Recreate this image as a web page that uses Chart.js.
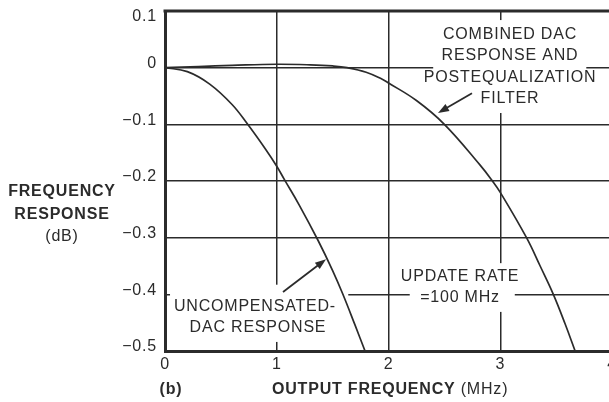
<!DOCTYPE html>
<html>
<head>
<meta charset="utf-8">
<script src="https://cdn.jsdelivr.net/npm/chart.js@4/dist/chart.umd.min.js"></script>
<style>
  html, body { margin: 0; padding: 0; background: #fff; overflow: hidden; }
  #wrap { position: relative; width: 615px; height: 402px; }
</style>
</head>
<body>
<div id="wrap"><canvas id="chart-dac"></canvas></div>
<script>
// Uncompensated DAC response (MHz, dB)
const freqUncomp = [0, 0.2, 0.4, 0.6, 0.74, 0.9, 1.0, 1.07, 1.2, 1.37, 1.5, 1.59, 1.7, 1.79];
const respUncomp = [0, -0.007, -0.029, -0.065, -0.1, -0.144, -0.174, -0.198, -0.242, -0.305, -0.358, -0.399, -0.454, -0.5];

// Combined DAC response + postequalization filter
const freqComb = [0, 0.3, 0.6, 1.0, 1.3, 1.5, 1.63, 1.8, 1.94, 2.0, 2.25, 2.5, 2.82, 2.93, 3.0, 3.235, 3.357, 3.475, 3.58, 3.67];
const respComb = [0, 0.002, 0.004, 0.006, 0.005, 0.003, 0, -0.008, -0.02, -0.027, -0.058, -0.1, -0.172, -0.2, -0.22, -0.3, -0.35, -0.4, -0.452, -0.5];

const xTicks = [0, 1, 2, 3, 4];
const yTicks = [0.1, 0, -0.1, -0.2, -0.3, -0.4, -0.5];

const INK = '#2b2b2b';
const FONT = '"Liberation Sans", Arial, sans-serif';

function txt(ctx, s, x, y, bold, align) {
  ctx.font = (bold ? 'bold ' : '') + '16px ' + FONT;
  ctx.textAlign = align || 'center';
  ctx.textBaseline = 'middle';
  ctx.fillText(s, x, y);
}

function fmtY(v) {
  if (Math.abs(v) < 1e-9) return '0';
  return (v < 0 ? '\u2212' : '') + Math.abs(v).toFixed(1);
}

function arrow(ctx, x0, y0, x1, y1) {
  const a = Math.atan2(y1 - y0, x1 - x0);
  const len = 11, w = 4;
  ctx.beginPath();
  ctx.moveTo(x0, y0);
  ctx.lineTo(x1 - Math.cos(a) * len * 0.8, y1 - Math.sin(a) * len * 0.8);
  ctx.lineWidth = 1.8;
  ctx.stroke();
  ctx.beginPath();
  ctx.moveTo(x1, y1);
  ctx.lineTo(x1 - Math.cos(a) * len - Math.sin(a) * w, y1 - Math.sin(a) * len + Math.cos(a) * w);
  ctx.lineTo(x1 - Math.cos(a) * len + Math.sin(a) * w, y1 - Math.sin(a) * len - Math.cos(a) * w);
  ctx.closePath();
  ctx.fill();
}

// white boxes behind the annotation text (data units: x0, y0, x1, y1)
const boxes = [
  [2.40, 0.084, 3.77, -0.080],
  [2.19, -0.345, 3.13, -0.431],
  [0.045, -0.383, 1.64, -0.484]
];

const notes = [
  { x: 3.087, y: 0.058, s: 'COMBINED DAC' },
  { x: 3.087, y: 0.022, s: 'RESPONSE AND' },
  { x: 3.087, y: -0.018, s: 'POSTEQUALIZATION' },
  { x: 3.087, y: -0.055, s: 'FILTER' },
  { x: 2.64, y: -0.369, s: 'UPDATE RATE' },
  { x: 2.64, y: -0.406, s: '=100 MHz' },
  { x: 0.805, y: -0.421, s: 'UNCOMPENSATED-' },
  { x: 0.832, y: -0.458, s: 'DAC RESPONSE' }
];

const arrows = [
  [2.747, -0.045, 2.443, -0.080],
  [1.056, -0.396, 1.441, -0.338]
];

const decor = {
  id: 'decor',
  beforeDatasetsDraw(chart) {
    const { ctx, scales: { x, y } } = chart;
    ctx.save();
    ctx.fillStyle = '#fff';
    for (const b of boxes) {
      const l = x.getPixelForValue(b[0]), t = y.getPixelForValue(b[1]);
      const r = x.getPixelForValue(b[2]), bt = y.getPixelForValue(b[3]);
      ctx.fillRect(l, t, r - l, bt - t);
    }
    ctx.restore();
  },
  afterDraw(chart) {
    const { ctx, chartArea: ca, scales: { x, y } } = chart;
    ctx.save();
    ctx.letterSpacing = '0.8px';
    ctx.fillStyle = INK;
    ctx.strokeStyle = INK;

    // top border
    ctx.beginPath();
    ctx.lineWidth = 3;
    ctx.moveTo(ca.left - 1.5, ca.top);
    ctx.lineTo(ca.right + 5, ca.top);
    ctx.stroke();

    // tick labels
    for (const v of yTicks) {
      const py = Math.max(y.getPixelForValue(v) - 4, ca.top + 6);
      txt(ctx, fmtY(v), ca.left - 8, py, false, 'right');
    }
    for (const v of xTicks) {
      txt(ctx, String(v), x.getPixelForValue(v), ca.bottom + 14, false);
    }

    // annotations
    for (const n of notes) txt(ctx, n.s, x.getPixelForValue(n.x), y.getPixelForValue(n.y), false);
    for (const a of arrows) {
      arrow(ctx, x.getPixelForValue(a[0]), y.getPixelForValue(a[1]),
                 x.getPixelForValue(a[2]), y.getPixelForValue(a[3]));
    }

    // axis titles
    txt(ctx, 'FREQUENCY', 62, 192, true);
    txt(ctx, 'RESPONSE', 62, 215, true);
    txt(ctx, '(dB)', 62, 237, false);
    txt(ctx, '(b)', 171, 390, true);
    txt(ctx, 'OUTPUT FREQUENCY ', 272, 390, true, 'left');
    ctx.font = 'bold 16px ' + FONT;
    const w = ctx.measureText('OUTPUT FREQUENCY ').width;
    txt(ctx, '(MHz)', 272 + w, 390, false, 'left');
    ctx.restore();
  }
};

const canvas = document.getElementById('chart-dac');
new Chart(canvas, {
  type: 'line',
  data: {
    datasets: [
      {
        label: 'Uncompensated DAC response',
        data: freqUncomp.map((f, i) => ({ x: f, y: respUncomp[i] })),
        borderColor: INK,
        borderWidth: 1.7,
        pointRadius: 0,
        tension: 0.4
      },
      {
        label: 'Combined DAC response and postequalization filter',
        data: freqComb.map((f, i) => ({ x: f, y: respComb[i] })),
        borderColor: INK,
        borderWidth: 1.7,
        pointRadius: 0,
        tension: 0.4
      }
    ]
  },
  options: {
    responsive: true,
    maintainAspectRatio: false,
    animation: false,
    layout: { padding: { left: 0, right: 3, top: 11, bottom: 0 } },
    plugins: { legend: { display: false }, tooltip: { enabled: false } },
    scales: {
      x: {
        type: 'linear',
        min: 0, max: 4,
        afterBuildTicks: s => { s.ticks = xTicks.map(v => ({ value: v })); },
        afterFit: s => { s.height = 51; },
        ticks: { display: false },
        grid: { color: INK, lineWidth: 1.5, drawTicks: false },
        border: { color: INK, width: 3 }
      },
      y: {
        type: 'linear',
        min: -0.5, max: 0.1,
        afterBuildTicks: s => { s.ticks = yTicks.map(v => ({ value: v })); },
        afterFit: s => { s.width = 165; },
        ticks: { display: false },
        grid: { color: INK, lineWidth: 1.5, drawTicks: false },
        border: { color: INK, width: 3 }
      }
    }
  },
  plugins: [decor]
});
</script>
</body>
</html>
